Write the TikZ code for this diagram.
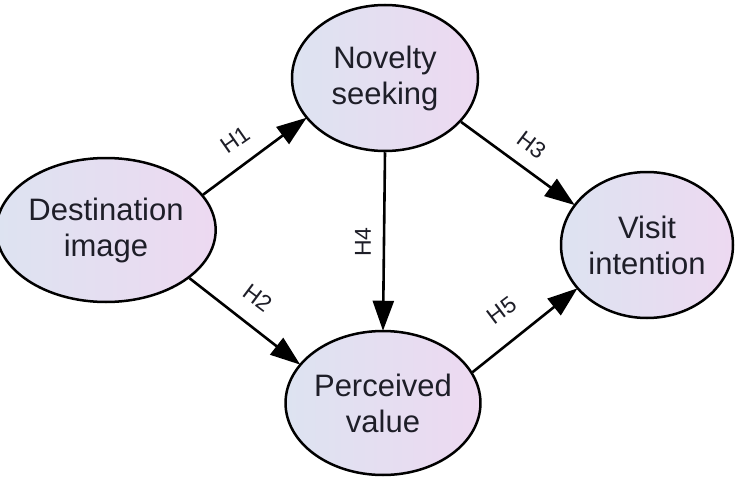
\documentclass[tikz,border=0pt]{standalone}
\usepackage{fontspec}
\setmainfont{Liberation Sans}
\usetikzlibrary{shapes.geometric,arrows.meta}
\definecolor{fillL}{HTML}{DDE3F1}
\definecolor{fillR}{HTML}{EDD9F1}
\definecolor{txt}{HTML}{1E1E28}
\tikzset{
  construct/.style={ellipse, draw=black, line width=2.5pt, left color=fillL, right color=fillR,
    shading angle=90, inner sep=0pt, text=txt, align=center,
    font=\fontsize{31}{36}\selectfont},
  path/.style={draw=black, line width=2.6pt, -{Triangle[length=30pt,width=21pt]}, shorten >=-1pt},
  hlabel/.style={font=\fontsize{23}{26}\selectfont, text=txt, inner sep=0pt},
}
\begin{document}
\begin{tikzpicture}[x=1pt,y=-1pt]
\useasboundingbox (0,0) rectangle (737,479);
\node[construct, minimum width=186pt, minimum height=146pt] (nov) at (385,78) {Novelty\\seeking};
\node[construct, minimum width=202pt, minimum height=144pt] (dest) at (106,230) {Destination\\image};
\node[construct, minimum width=190pt, minimum height=144pt] (per) at (383,403) {Perceived\\value};
\node[construct, minimum width=172pt, minimum height=146pt] (vis) at (647,245) {Visit\\intention};
\draw[path] (dest.20) -- (nov.207);
\draw[path] (dest.-30) -- (per.155);
\draw[path] (nov.-30) -- (vis.151);
\draw[path] (nov.south) -- (per.north);
\draw[path] (per.19) -- (vis.212);
\node[hlabel, rotate=35] (h1) at (235,140) {H1};
\node[hlabel, rotate=-37] (h2) at (258,298) {H2};
\node[hlabel, rotate=-37] (h3) at (532,145) {H3};
\node[hlabel, rotate=90] (h4) at (363,242) {H4};
\node[hlabel, rotate=37] (h5) at (502,310) {H5};
\end{tikzpicture}
\end{document}
